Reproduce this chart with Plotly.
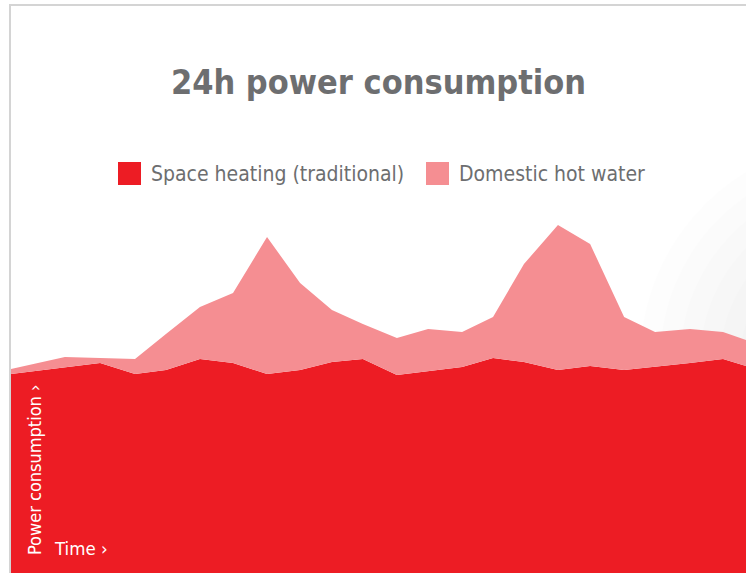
import plotly.graph_objects as go

# Time of day (hours) and power consumption (arbitrary units)
hours = [0.0, 1.76, 2.91, 4.05, 5.06, 6.17, 7.25, 8.36, 9.44, 10.48, 11.49, 12.60,
         13.62, 14.73, 15.74, 16.75, 17.86, 18.91, 20.02, 21.03, 22.17, 23.25, 24.0]
space_heating = [1.99, 2.06, 2.10, 1.99, 2.03, 2.14, 2.10, 1.99, 2.03, 2.11, 2.14, 1.98,
                 2.02, 2.06, 2.15, 2.11, 2.03, 2.07, 2.03, 2.06, 2.10, 2.14, 2.07]
hot_water = [0.05, 0.10, 0.05, 0.15, 0.36, 0.52, 0.70, 1.37, 0.87, 0.52, 0.35, 0.37,
             0.42, 0.35, 0.41, 0.98, 1.45, 1.22, 0.53, 0.35, 0.34, 0.27, 0.26]

series_names = ["Space heating (traditional)", "Domestic hot water"]
series_colors = ["#ED1C24", "#F58E92"]
title_text = "24h power consumption"
y_label = "Power consumption ›"
x_label = "Time ›"

W, H = 746, 573
ML = 11
PW = W - ML


def px(x):
    return (x - ML) / PW


def py(y):
    return 1 - y / H


fig = go.Figure()
for name, vals, col in zip(series_names, [space_heating, hot_water], series_colors):
    fig.add_trace(go.Scatter(
        x=hours, y=vals, name=name, stackgroup="one", mode="lines",
        line=dict(width=0, color=col), fillcolor=col, showlegend=False,
    ))

gray = "#6D6E70"
font_main = "DejaVu Sans Condensed, DejaVu Sans, sans-serif"

shapes = []
# faint grey shading on the right of the background
cx, cy = 860, 360
for r in range(220, 60, -20):
    shapes.append(dict(type="circle", xref="paper", yref="paper", layer="below",
                       x0=px(cx - r), x1=px(cx + r), y0=py(cy + r), y1=py(cy - r),
                       fillcolor="rgba(0,0,0,0.006)", line=dict(width=0)))
shapes += [
    dict(type="line", xref="paper", yref="paper", x0=px(9), x1=1.0, y0=py(5), y1=py(5),
         line=dict(color="#D4D4D4", width=2)),
    dict(type="line", xref="paper", yref="paper", x0=px(10), x1=px(10), y0=py(5), y1=0,
         line=dict(color="#D4D4D4", width=2)),
    dict(type="rect", xref="paper", yref="paper", x0=px(118), x1=px(141), y0=py(185), y1=py(162),
         fillcolor=series_colors[0], line=dict(width=0)),
    dict(type="rect", xref="paper", yref="paper", x0=px(426), x1=px(449), y0=py(185), y1=py(162),
         fillcolor=series_colors[1], line=dict(width=0)),
]

annotations = [
    dict(text=series_names[0], xref="paper", yref="paper", x=px(149), y=py(174),
         xanchor="left", yanchor="middle", showarrow=False,
         font=dict(family=font_main, size=21, color=gray)),
    dict(text=series_names[1], xref="paper", yref="paper", x=px(457), y=py(174),
         xanchor="left", yanchor="middle", showarrow=False,
         font=dict(family=font_main, size=21, color=gray)),
    dict(text=y_label, xref="paper", yref="paper", x=px(34), y=py(470),
         xanchor="center", yanchor="middle", textangle=-90, showarrow=False,
         font=dict(family=font_main, size=18, color="white")),
    dict(text=x_label, xref="paper", yref="paper", x=px(52), y=py(548),
         xanchor="left", yanchor="middle", showarrow=False,
         font=dict(family=font_main, size=18.5, color="white")),
]

fig.update_layout(
    width=W, height=H,
    margin=dict(l=ML, r=0, t=0, b=0),
    paper_bgcolor="white", plot_bgcolor="white",
    title=dict(text="<b>" + title_text + "</b>", x=0.5, xanchor="center", xref="paper",
               y=py(82), yref="paper", yanchor="middle",
               font=dict(family=font_main, size=34, color=gray)),
    xaxis=dict(range=[0, 24], visible=False, fixedrange=True),
    yaxis=dict(range=[0, 5.73], visible=False, fixedrange=True),
    shapes=shapes, annotations=annotations,
    showlegend=False,
)

fig.write_html("out.html", config={"displayModeBar": False},
               post_script="document.body.style.margin='0px';document.body.style.overflow='hidden';")
